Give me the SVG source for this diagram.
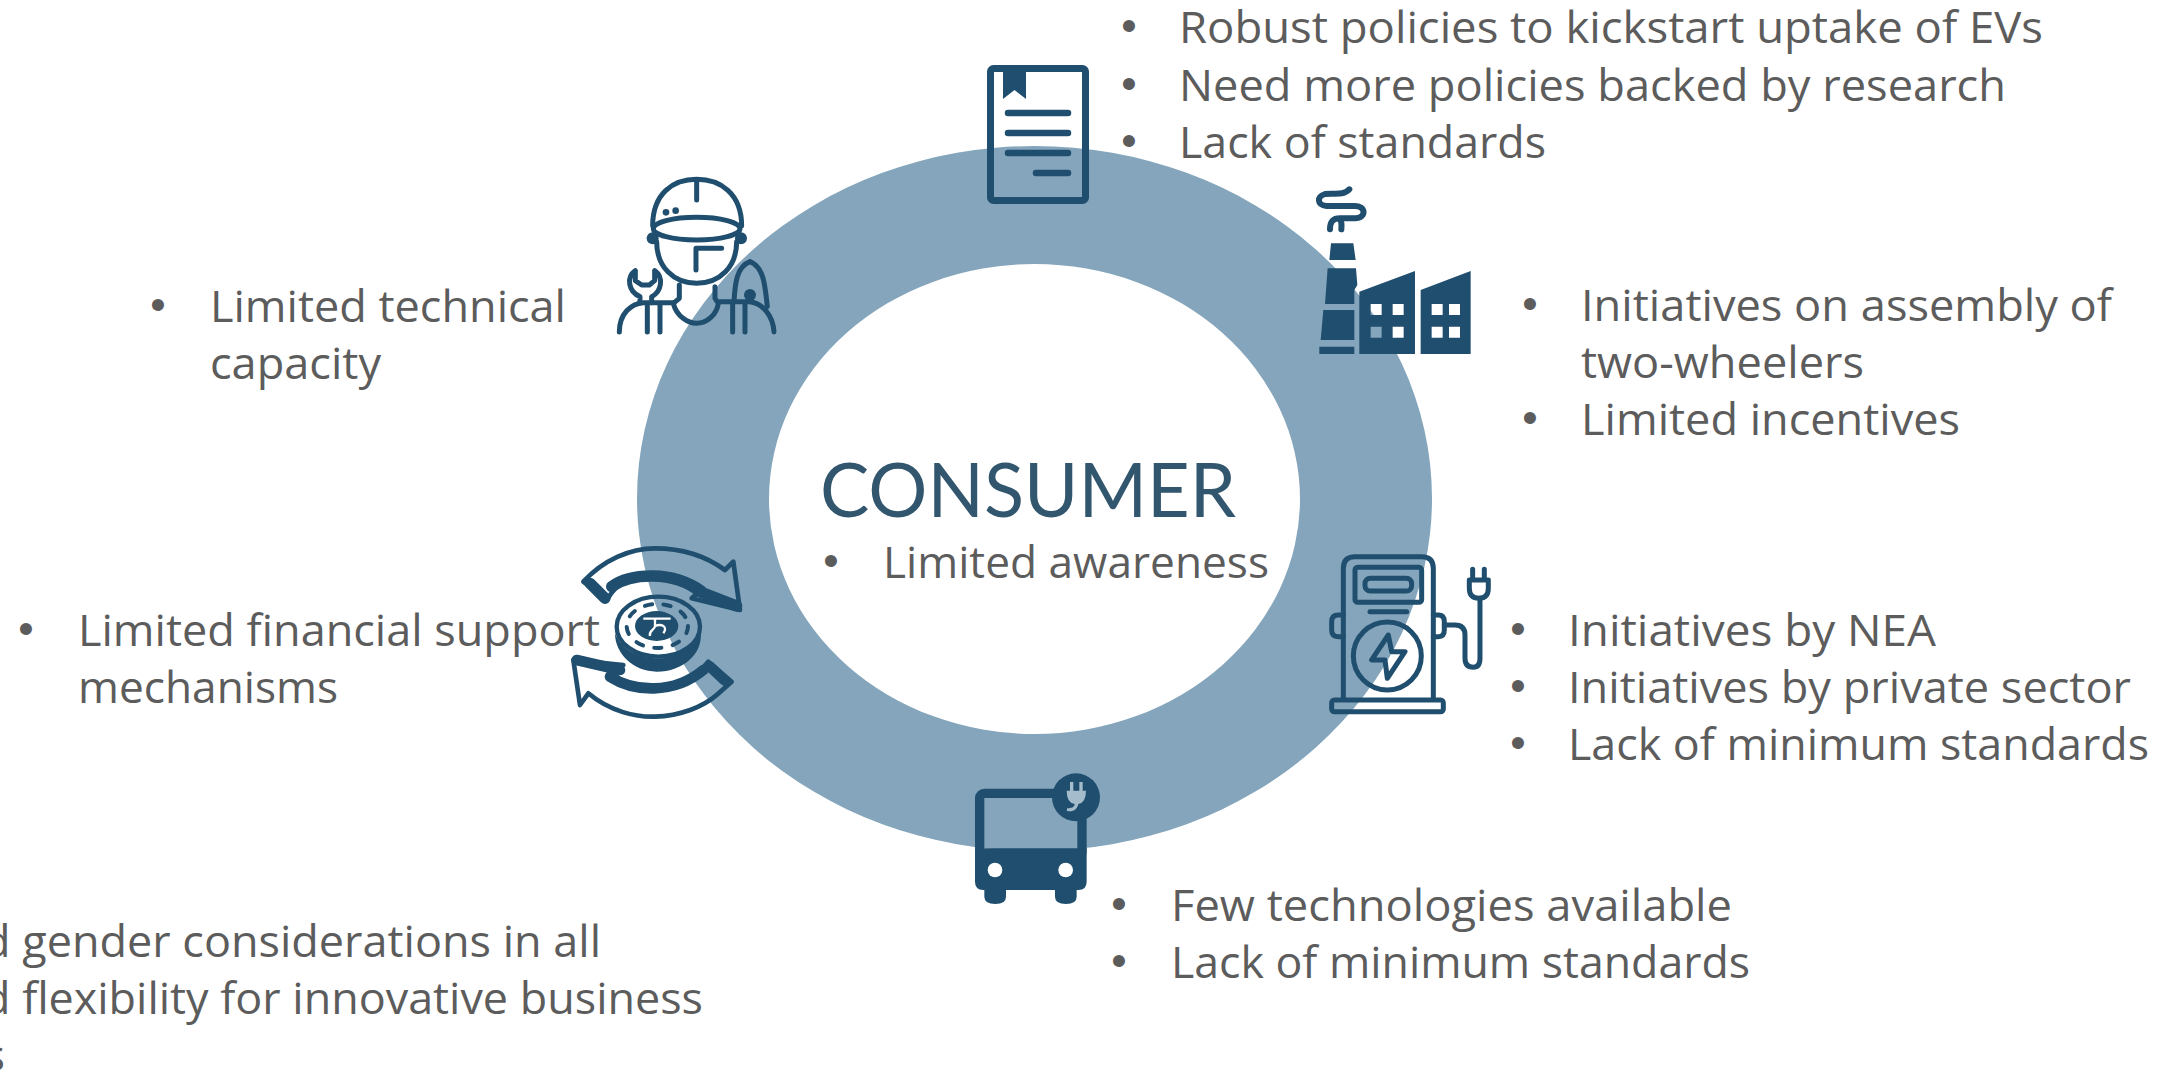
<svg xmlns="http://www.w3.org/2000/svg" width="2179" height="1075" viewBox="0 0 2179 1075">
<style>
.t{font-family:"Open Sans","Noto Sans","Liberation Sans",sans-serif;font-size:44px;fill:#5c5c5c}
.b{font-family:"Liberation Sans",sans-serif;font-size:44px;fill:#5c5c5c;text-anchor:middle}
.h{font-family:Lato,"Liberation Sans",sans-serif;font-size:76px;fill:#33566f}
.s{fill:none;stroke:#1f4e6e;stroke-linecap:round;stroke-linejoin:round}
.f{fill:#1f4e6e}
</style>
<rect width="2179" height="1075" fill="#fff"/>
<g id="ring"><path fill="#84a5bb" fill-rule="evenodd" d="M637 498.500a397.500 352.500 0 1 0 795 0a397.500 352.500 0 1 0 -795 0ZM769 499a265.500 235 0 1 0 531 0a265.500 235 0 1 0 -531 0Z"/></g>

<g id="icon-policy">
<rect class="s" x="990.500" y="68.500" width="95" height="132" rx="3" stroke-width="7"/>
<path class="f" d="M1003 68H1026V99L1014.500 90L1003 99Z"/>
<path class="s" stroke-width="6.500" d="M1008 113H1068M1008 133H1068M1008 153H1068M1036 173H1068"/>
</g>

<g id="icon-engineer" transform="translate(560 150) scale(.3333)">
<path class="s" stroke-width="15" d="M278 228C278 130 340 88 410 88C480 88 545 130 545 228M410 90V150"/>
<circle class="f" cx="318" cy="187" r="10"/><circle class="f" cx="347" cy="182" r="10"/>
<ellipse class="s" stroke-width="15" cx="410" cy="236" rx="130" ry="34"/>
<circle class="f" cx="278" cy="265" r="18"/><circle class="f" cx="543" cy="265" r="18"/>
<path class="s" stroke-width="15" d="M290 275C290 350 340 400 410 400C480 400 530 350 530 275M408 360V295H485"/>
<path class="s" stroke-width="15" d="M358 405V445L340 460C350 500 385 520 410 520C440 520 470 495 475 460L465 445V410"/>
<path class="s" stroke-width="15" d="M226 362C198 382 205 425 240 440V458M284 362C312 382 305 425 275 440V458M226 362V392L245 405H268L284 392V362"/>
<path class="s" stroke-width="15" d="M178 546C178 490 215 460 250 458H340M262 460V546M300 460V546"/>
<path class="s" stroke-width="15" d="M570 335C530 350 525 400 522 455M570 335C610 350 615 400 622 470M480 455H570C610 460 640 500 642 546M518 460V546M555 460V546"/>
<circle class="f" cx="570" cy="435" r="18"/>
</g>

<g id="icon-factory" transform="translate(1300 170) scale(.3333)">
<path class="s" stroke-width="18" d="M148 58C130 78 100 68 75 72C50 80 50 105 80 108H160C200 105 200 145 165 145H120C95 145 90 160 90 178M120 145C125 155 125 168 124 178"/>
<path class="f" d="M93 220H160L167 270H88ZM83 295H168L172 345L163 360V402H75ZM70 420H163V510H62ZM58 530H163V552H58Z"/>
<path class="f" fill-rule="evenodd" d="M178 365L345 303V552H178ZM212 402v33h33v-33ZM278 402v33h33v-33ZM212 470v33h33v-33ZM278 470v33h33v-33Z"/>
<path class="f" fill-rule="evenodd" d="M362 360L512 303V552H362ZM395 402v33h33v-33ZM447 402v33h33v-33ZM395 470v33h33v-33ZM447 470v33h33v-33Z"/>
</g>

<g id="icon-charger" transform="translate(1310 540) scale(.3333)">
<g class="s" stroke-width="15">
<path d="M100 475V85Q100 50 135 50H335Q370 50 370 85V475"/>
<rect x="135" y="82" width="200" height="105" rx="8"/>
<rect x="165" y="115" width="140" height="38" rx="16"/>
<path d="M180 215H290"/>
<circle cx="232" cy="348" r="102"/>
<path d="M235 285L185 360H225L232 415L285 335H245Z"/>
<path d="M100 225H85Q65 225 65 245V270Q65 290 85 290H100M370 225H385Q403 225 403 245V270Q403 290 385 290H370"/>
<path d="M403 255H435Q465 255 465 285V355Q465 382 490 382Q510 382 510 355V175"/>
<path d="M478 120V145Q478 175 507 175Q535 175 535 145V120ZM488 120V88M523 120V88"/>
<rect x="65" y="480" width="335" height="35" rx="8"/>
</g>
</g>

<g id="icon-bus" transform="translate(950 760) scale(.3333)">
<rect class="s" x="89" y="100" width="307" height="190" rx="14" stroke-width="28"/>
<path class="f" d="M75 265H410V365Q410 390 385 390H380V410Q380 432 348 432Q315 432 315 410V390H168V410Q168 432 136 432Q103 432 103 410V390H100Q75 390 75 365Z"/>
<circle cx="135" cy="330" r="22" fill="#fff"/><circle cx="347" cy="330" r="22" fill="#fff"/>
<circle class="f" cx="378" cy="112" r="72"/>
<path fill="#a5bccd" d="M360 66h10v26h18v-26h10v26h10Q408 128 385 132C382 150 365 158 350 152L352 144C362 146 374 142 374 132Q350 128 350 92h10Z"/>
</g>

<g id="icon-finance" transform="translate(540 520) scale(.3333)">
<path class="s" stroke-width="14" d="M130 185C190 120 270 85 345 85C430 85 500 110 555 150L580 125L600 270L455 235L490 205C440 170 390 160 340 160C290 160 240 175 200 240Z"/>
<path class="s" stroke-width="34" d="M150 190L195 235M215 200C270 160 400 150 480 215L590 258" stroke-linecap="butt"/>
<ellipse class="s" stroke-width="13" cx="355" cy="320" rx="125" ry="90"/>
<path class="f" d="M225 340C250 400 310 415 355 415C410 415 465 390 482 335C490 400 430 455 350 455C280 455 225 400 225 340Z"/>
<ellipse class="f" cx="350" cy="318" rx="65" ry="45"/>
<ellipse class="s" stroke-width="12" cx="352" cy="318" rx="92" ry="66" stroke-dasharray="22 34" stroke-linecap="butt"/>
<path fill="none" stroke="#fff" stroke-width="7" d="M310 296H392M345 296V318C345 330 325 332 330 348M345 318C365 310 385 320 370 340"/>
<path class="s" stroke-width="14" d="M100 420L250 435L205 470C250 495 300 505 345 505C400 505 460 480 505 425L575 485L530 525C490 560 420 588 345 590C290 592 210 575 145 520L120 555Z"/>
<path class="s" stroke-width="32" d="M110 420L240 450M210 470C280 515 400 525 490 450M510 440L555 482" stroke-linecap="butt"/>
</g>

<g id="text-policy">
<text class="b" x="1129" y="41">•</text><text class="t" x="1179" y="43" textLength="864" lengthAdjust="spacingAndGlyphs">Robust policies to kickstart uptake of EVs</text>
<text class="b" x="1129" y="99">•</text><text class="t" x="1179" y="101" textLength="827" lengthAdjust="spacingAndGlyphs">Need more policies backed by research</text>
<text class="b" x="1129" y="156">•</text><text class="t" x="1179" y="158" textLength="367" lengthAdjust="spacingAndGlyphs">Lack of standards</text>
</g>
<g id="text-factory">
<text class="b" x="1530" y="319">•</text><text class="t" x="1581" y="321" textLength="531" lengthAdjust="spacingAndGlyphs">Initiatives on assembly of</text>
<text class="t" x="1581" y="378" textLength="283" lengthAdjust="spacingAndGlyphs">two-wheelers</text>
<text class="b" x="1530" y="433">•</text><text class="t" x="1581" y="435" textLength="379" lengthAdjust="spacingAndGlyphs">Limited incentives</text>
</g>
<g id="text-charger">
<text class="b" x="1518" y="644">•</text><text class="t" x="1568" y="646" textLength="368" lengthAdjust="spacingAndGlyphs">Initiatives by NEA</text>
<text class="b" x="1518" y="701">•</text><text class="t" x="1568" y="703" textLength="563" lengthAdjust="spacingAndGlyphs">Initiatives by private sector</text>
<text class="b" x="1518" y="758">•</text><text class="t" x="1568" y="760" textLength="581" lengthAdjust="spacingAndGlyphs">Lack of minimum standards</text>
</g>
<g id="text-bus">
<text class="b" x="1119" y="919">•</text><text class="t" x="1171" y="921" textLength="561" lengthAdjust="spacingAndGlyphs">Few technologies available</text>
<text class="b" x="1119" y="976">•</text><text class="t" x="1171" y="978" textLength="579" lengthAdjust="spacingAndGlyphs">Lack of minimum standards</text>
</g>
<g id="text-engineer">
<text class="b" x="158" y="320">•</text><text class="t" x="210" y="322" textLength="356" lengthAdjust="spacingAndGlyphs">Limited technical</text>
<text class="t" x="210" y="379" textLength="171" lengthAdjust="spacingAndGlyphs">capacity</text>
</g>
<g id="text-finance">
<text class="b" x="26" y="644">•</text><text class="t" x="78" y="646" textLength="522" lengthAdjust="spacingAndGlyphs">Limited financial support</text>
<text class="t" x="78" y="703" textLength="260" lengthAdjust="spacingAndGlyphs">mechanisms</text>
</g>
<g id="text-clipped">
<text class="t" x="-17" y="957" textLength="618" lengthAdjust="spacingAndGlyphs">d gender considerations in all</text>
<text class="t" x="-17" y="1014" textLength="720" lengthAdjust="spacingAndGlyphs">d flexibility for innovative business</text>
<text class="t" x="-16" y="1071">s</text>
</g>
<g id="center">
<text class="h" x="820" y="517" textLength="416" lengthAdjust="spacingAndGlyphs">CONSUMER</text>
<text class="b" x="831" y="576">•</text><text class="t" x="883" y="578" textLength="386" lengthAdjust="spacingAndGlyphs">Limited awareness</text>
</g>
</svg>
